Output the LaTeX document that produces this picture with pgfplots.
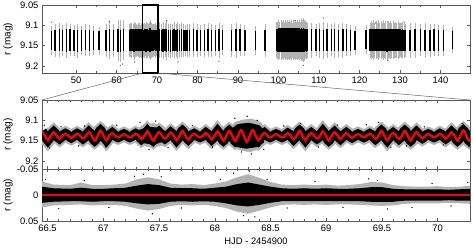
\documentclass[border=0pt]{standalone}
\usepackage{pgfplots}
\pgfplotsset{compat=1.18}
\usepackage{pgfplotstable}
\usepackage{fontspec}
\setmainfont{Liberation Sans}

% top panel: nightly bars (x, centre, core half-range, fringe half-range)
\pgfplotstableread{
x yc ec ef
44.0 9.137 0.024 0.036
44.8 9.137 0.026 0.040
45.9 9.136 0.027 0.042
46.7 9.138 0.026 0.038
47.7 9.137 0.028 0.044
48.5 9.136 0.026 0.040
49.5 9.137 0.025 0.038
50.4 9.138 0.027 0.042
51.4 9.137 0.026 0.036
52.4 9.136 0.025 0.040
53.3 9.137 0.026 0.038
54.4 9.137 0.024 0.036
55.7 9.138 0.023 0.034
57.4 9.137 0.025 0.040
58.2 9.136 0.027 0.046
59.2 9.137 0.026 0.040
60.4 9.137 0.028 0.050
61.0 9.138 0.027 0.052
61.7 9.136 0.028 0.050
63.30 9.137 0.025 0.040
63.55 9.136 0.026 0.042
63.80 9.137 0.027 0.044
64.05 9.137 0.026 0.040
64.30 9.138 0.028 0.046
64.55 9.136 0.026 0.042
64.80 9.137 0.027 0.040
65.05 9.137 0.025 0.038
65.30 9.136 0.026 0.042
65.55 9.137 0.027 0.044
65.80 9.138 0.026 0.040
66.05 9.137 0.027 0.042
66.30 9.136 0.026 0.044
66.55 9.137 0.025 0.040
66.80 9.137 0.026 0.042
67.05 9.136 0.026 0.040
67.30 9.137 0.028 0.046
67.55 9.137 0.027 0.044
67.80 9.136 0.025 0.040
68.05 9.137 0.026 0.042
68.30 9.136 0.029 0.050
68.55 9.137 0.026 0.042
68.80 9.137 0.025 0.040
69.05 9.137 0.026 0.040
69.30 9.136 0.025 0.040
69.55 9.137 0.026 0.042
69.80 9.137 0.025 0.038
70.05 9.137 0.025 0.038
70.30 9.137 0.026 0.040
70.70 9.136 0.027 0.044
71.10 9.137 0.026 0.040
71.50 9.137 0.028 0.046
72.00 9.136 0.027 0.042
72.40 9.137 0.028 0.048
72.90 9.137 0.026 0.040
73.30 9.138 0.027 0.042
73.80 9.137 0.026 0.040
74.20 9.136 0.027 0.044
74.70 9.137 0.026 0.040
75.10 9.137 0.028 0.046
75.60 9.137 0.026 0.040
76.00 9.136 0.027 0.042
76.50 9.137 0.026 0.040
76.90 9.137 0.025 0.038
77.40 9.137 0.026 0.040
78.00 9.137 0.026 0.040
79.00 9.136 0.027 0.042
79.90 9.137 0.026 0.040
80.80 9.137 0.025 0.038
81.70 9.137 0.026 0.040
82.60 9.136 0.027 0.042
83.50 9.137 0.026 0.040
84.40 9.137 0.025 0.038
85.30 9.137 0.027 0.044
86.20 9.136 0.025 0.038
88.40 9.137 0.026 0.040
89.50 9.137 0.027 0.042
90.50 9.136 0.026 0.040
91.70 9.137 0.025 0.038
94.40 9.137 0.024 0.036
96.70 9.137 0.025 0.040
99.60 9.136 0.027 0.044
99.85 9.137 0.028 0.046
100.10 9.136 0.029 0.048
100.35 9.137 0.028 0.046
100.60 9.136 0.029 0.050
100.85 9.137 0.028 0.046
101.10 9.136 0.029 0.048
101.35 9.137 0.028 0.044
101.60 9.136 0.029 0.048
101.85 9.137 0.028 0.046
102.10 9.136 0.029 0.050
102.35 9.137 0.028 0.046
102.60 9.136 0.029 0.048
102.85 9.137 0.028 0.046
103.10 9.136 0.029 0.048
103.35 9.137 0.028 0.044
103.60 9.136 0.029 0.048
103.85 9.137 0.028 0.046
104.10 9.136 0.030 0.050
104.35 9.137 0.028 0.046
104.60 9.136 0.029 0.048
104.85 9.137 0.028 0.046
105.10 9.136 0.029 0.048
105.35 9.137 0.028 0.046
105.60 9.136 0.030 0.052
105.85 9.137 0.029 0.050
106.10 9.136 0.030 0.054
106.35 9.137 0.029 0.050
106.60 9.136 0.028 0.046
106.85 9.137 0.028 0.046
107.10 9.137 0.027 0.044
108.20 9.137 0.027 0.042
109.30 9.136 0.026 0.040
110.20 9.137 0.027 0.044
111.10 9.137 0.026 0.046
112.00 9.137 0.027 0.042
113.10 9.136 0.026 0.040
113.90 9.137 0.027 0.042
114.80 9.137 0.026 0.040
115.90 9.137 0.027 0.042
116.80 9.136 0.026 0.040
117.80 9.137 0.025 0.038
118.90 9.137 0.024 0.036
121.60 9.135 0.024 0.036
122.60 9.137 0.027 0.044
122.90 9.136 0.028 0.046
123.20 9.137 0.027 0.044
123.50 9.136 0.028 0.048
123.80 9.137 0.027 0.044
124.10 9.136 0.028 0.046
124.40 9.137 0.027 0.044
124.70 9.136 0.028 0.048
125.00 9.137 0.027 0.044
125.30 9.136 0.028 0.046
125.60 9.137 0.027 0.044
125.90 9.136 0.028 0.048
126.20 9.137 0.027 0.044
126.50 9.136 0.028 0.046
126.80 9.137 0.028 0.048
127.10 9.136 0.028 0.046
127.40 9.137 0.027 0.044
127.70 9.136 0.028 0.046
128.00 9.137 0.027 0.044
128.30 9.136 0.028 0.046
128.60 9.137 0.027 0.044
128.90 9.136 0.027 0.044
129.20 9.137 0.027 0.044
129.50 9.136 0.028 0.046
129.80 9.137 0.027 0.044
130.10 9.136 0.027 0.042
130.40 9.137 0.026 0.042
130.70 9.136 0.027 0.044
131.00 9.137 0.026 0.042
131.30 9.137 0.026 0.040
132.50 9.137 0.026 0.042
133.70 9.137 0.027 0.044
135.00 9.136 0.026 0.040
136.20 9.137 0.026 0.042
137.40 9.137 0.025 0.040
138.40 9.136 0.026 0.040
139.50 9.137 0.025 0.038
140.70 9.137 0.025 0.038
143.00 9.136 0.023 0.032
}\nightly

% middle panel: fitted curve (extremes and mean crossings)
\pgfplotstableread{
x y
66.4500 9.127
66.4763 9.138
66.5025 9.149
66.5288 9.138
66.5550 9.129
66.5813 9.138
66.6075 9.145
66.6338 9.138
66.6600 9.133
66.6863 9.138
66.7125 9.143
66.7388 9.138
66.7650 9.133
66.7913 9.138
66.8175 9.145
66.8438 9.138
66.8700 9.129
66.8963 9.138
66.9225 9.150
66.9488 9.138
66.9750 9.125
67.0013 9.138
67.0275 9.149
67.0538 9.138
67.0800 9.131
67.1063 9.138
67.1325 9.142
67.1588 9.138
67.1850 9.134
67.2113 9.138
67.2375 9.142
67.2638 9.138
67.2900 9.133
67.3163 9.138
67.3425 9.146
67.3688 9.138
67.3950 9.127
67.4213 9.138
67.4475 9.150
67.4738 9.138
67.5000 9.129
67.5263 9.138
67.5525 9.145
67.5788 9.138
67.6050 9.130
67.6313 9.138
67.6575 9.149
67.6838 9.138
67.7100 9.126
67.7363 9.138
67.7625 9.147
67.7888 9.138
67.8150 9.133
67.8413 9.138
67.8675 9.142
67.8938 9.138
67.9200 9.131
67.9463 9.138
67.9725 9.147
67.9988 9.138
68.0250 9.127
68.0513 9.138
68.0775 9.150
68.1038 9.138
68.1300 9.126
68.1563 9.138
68.1825 9.151
68.2088 9.138
68.2350 9.124
68.2613 9.138
68.2875 9.153
68.3138 9.138
68.3400 9.124
68.3663 9.138
68.3925 9.149
68.4188 9.138
68.4450 9.131
68.4713 9.138
68.4975 9.142
68.5238 9.138
68.5500 9.134
68.5763 9.138
68.6025 9.142
68.6288 9.138
68.6550 9.132
68.6813 9.138
68.7075 9.147
68.7338 9.138
68.7600 9.126
68.7863 9.138
68.8125 9.149
68.8388 9.138
68.8650 9.131
68.8913 9.138
68.9175 9.145
68.9438 9.138
68.9700 9.127
68.9963 9.138
69.0225 9.150
69.0488 9.138
69.0750 9.129
69.1013 9.138
69.1275 9.146
69.1538 9.138
69.1800 9.131
69.2063 9.138
69.2325 9.143
69.2588 9.138
69.2850 9.134
69.3113 9.138
69.3375 9.142
69.3638 9.138
69.3900 9.133
69.4163 9.138
69.4425 9.146
69.4688 9.138
69.4950 9.126
69.5213 9.138
69.5475 9.149
69.5738 9.138
69.6000 9.131
69.6263 9.138
69.6525 9.146
69.6788 9.138
69.7050 9.126
69.7313 9.138
69.7575 9.150
69.7838 9.138
69.8100 9.129
69.8363 9.138
69.8625 9.144
69.8888 9.138
69.9150 9.134
69.9413 9.138
69.9675 9.142
69.9938 9.138
70.0200 9.133
70.0463 9.138
70.0725 9.145
70.0988 9.138
70.1250 9.129
70.1513 9.138
70.1775 9.150
70.2038 9.138
70.2300 9.125
70.2563 9.138
70.2825 9.150
70.3088 9.138
70.3350 9.126
}\curve

\pgfplotsset{
  panel/.style={
    scale only axis, width=428pt, anchor=north west,
    axis line style={black!65, line width=0.6pt},
    tick style={black!65, line width=0.5pt},
    tick align=inside,
    major tick length=3pt, minor tick length=1.8pt,
    tick label style={font=\fontsize{9.4}{11}\selectfont},
    label style={font=\fontsize{9.4}{11}\selectfont},
    /pgf/number format/assume math mode=true,
    scaled y ticks=false, scaled x ticks=false,
    yticklabel style={/pgf/number format/fixed, /pgf/number format/precision=2},
    xticklabel style={/pgf/number format/fixed, /pgf/number format/precision=1},
    every axis y label/.style={at={(axis description cs:-0.0794,0.5)}, rotate=90, anchor=center},
    ylabel={r (mag)},
    y dir=reverse,
  },
}

\begin{document}
\begin{tikzpicture}
\useasboundingbox (0pt,0pt) rectangle (473pt,-249pt);

% ---------- top panel ----------
\begin{axis}[panel, at={(42pt,-5pt)}, height=68pt, clip=false,
  xmin=41.6, xmax=147.3, ymin=9.05, ymax=9.217,
  xtick={50,60,70,80,90,100,110,120,130,140}, minor x tick num=1,
  ytick={9.05,9.1,9.15,9.2}]
\addplot[black!30, line width=0.8pt, forget plot, quiver={u=0, v={2*\thisrow{ef}}}]
  table[x=x, y expr=\thisrow{yc}-\thisrow{ef}] {\nightly};
\addplot[black, line width=1.3pt, forget plot, quiver={u=0, v={2*\thisrow{ec}}}]
  table[x=x, y expr=\thisrow{yc}-\thisrow{ec}] {\nightly};
\addplot[only marks, mark=*, mark size=0.35pt, black!70] coordinates {
 (44.0,9.092) (58.2,9.090) (60.9,9.198) (61.5,9.195) (64.5,9.190)
 (68.3,9.094) (72.4,9.088) (75.2,9.190) (85.3,9.188) (104.1,9.088)
 (106.1,9.198) (111.1,9.082) (124.0,9.094) (127.0,9.186) (131.0,9.092)};
\draw[black, line width=1.4pt] (axis cs:66.45,9.05) rectangle (axis cs:70.29,9.217);
\coordinate (rbl) at (axis cs:66.45,9.217);
\coordinate (rbr) at (axis cs:70.29,9.217);
\end{axis}

% ---------- middle panel ----------
\begin{axis}[panel, at={(42pt,-100pt)}, height=69pt,
  xmin=66.45, xmax=70.29, ymin=9.05, ymax=9.22,
  xtick={66.5,67,67.5,68,68.5,69,69.5,70}, minor x tick num=4, xticklabels={},
  ytick={9.05,9.1,9.15,9.2}]
\addplot[fill=black!30, draw=none] coordinates {
 (68.12,9.122) (68.18,9.104) (68.26,9.098) (68.33,9.096) (68.41,9.104) (68.46,9.120)
 (68.46,9.158) (68.40,9.172) (68.32,9.178) (68.24,9.175) (68.17,9.168) (68.12,9.156)};
\addplot[fill=black!30, draw=none] coordinates {
 (67.30,9.122) (67.36,9.110) (67.45,9.107) (67.54,9.113) (67.57,9.124)
 (67.57,9.156) (67.50,9.165) (67.40,9.166) (67.33,9.160) (67.30,9.152)};
\addplot[black!30, line width=14pt, smooth] table[x=x, y=y] {\curve};
\addplot[fill=black, draw=none] coordinates {
 (68.14,9.124) (68.20,9.110) (68.30,9.106) (68.40,9.112) (68.44,9.124)
 (68.44,9.155) (68.38,9.166) (68.28,9.170) (68.18,9.165) (68.14,9.154)};
\addplot[fill=black, draw=none] coordinates {
 (67.32,9.124) (67.40,9.116) (67.50,9.118) (67.55,9.126)
 (67.55,9.152) (67.45,9.160) (67.35,9.156)};
\addplot[black, line width=9.5pt, smooth] table[x=x, y=y] {\curve};
\addplot[only marks, mark=*, mark size=0.4pt, black] coordinates {
 (66.47,9.112) (66.52,9.168) (66.62,9.116) (66.78,9.163) (66.83,9.114)
 (67.02,9.165) (67.12,9.112) (67.33,9.105) (67.41,9.172) (67.47,9.102)
 (67.58,9.167) (67.80,9.113) (67.98,9.166) (68.18,9.095) (68.24,9.178)
 (68.29,9.090) (68.33,9.183) (68.38,9.100) (68.44,9.172) (68.62,9.114)
 (68.77,9.108) (68.93,9.166) (69.10,9.112) (69.36,9.111) (69.47,9.105)
 (69.58,9.166) (69.72,9.163) (69.88,9.116) (70.05,9.161) (70.22,9.108) (70.28,9.165)};
\addplot[red, line width=2.3pt, smooth] table[x=x, y=y] {\curve};
\coordinate (mtl) at (axis cs:66.45,9.05);
\coordinate (mtr) at (axis cs:70.29,9.05);
\end{axis}

% ---------- bottom panel ----------
\begin{axis}[panel, at={(42pt,-169pt)}, height=52pt,
  xmin=66.45, xmax=70.29, ymin=-0.05, ymax=0.05,
  xtick={66.5,67,67.5,68,68.5,69,69.5,70}, minor x tick num=4,
  ytick={-0.05,0,0.05},
  xlabel={HJD - 2454900}]
\addplot[fill=black!30, draw=none] coordinates {
 (66.45,-0.026) (66.55,-0.020) (66.70,-0.019) (66.80,-0.024) (66.90,-0.019) (67.00,-0.019)
 (67.10,-0.020) (67.20,-0.022) (67.30,-0.030) (67.40,-0.034) (67.50,-0.030) (67.60,-0.022)
 (67.70,-0.020) (67.80,-0.021) (67.90,-0.019) (68.00,-0.022) (68.10,-0.026) (68.20,-0.034)
 (68.30,-0.040) (68.40,-0.033) (68.50,-0.025) (68.60,-0.020) (68.70,-0.019) (68.80,-0.020)
 (68.90,-0.019) (69.00,-0.020) (69.10,-0.018) (69.20,-0.019) (69.30,-0.021) (69.40,-0.025)
 (69.50,-0.024) (69.60,-0.019) (69.70,-0.017) (69.80,-0.016) (69.90,-0.016) (70.00,-0.017)
 (70.10,-0.015) (70.20,-0.016) (70.30,-0.018)
 (70.30,0.017) (70.20,0.016) (70.10,0.015) (70.00,0.016) (69.90,0.016) (69.80,0.016)
 (69.70,0.017) (69.60,0.020) (69.50,0.021) (69.40,0.020) (69.30,0.019) (69.20,0.018)
 (69.10,0.018) (69.00,0.019) (68.90,0.018) (68.80,0.019) (68.70,0.018) (68.60,0.019)
 (68.50,0.024) (68.40,0.030) (68.30,0.036) (68.20,0.032) (68.10,0.025) (68.00,0.021)
 (67.90,0.019) (67.80,0.020) (67.70,0.019) (67.60,0.021) (67.50,0.027) (67.40,0.030)
 (67.30,0.026) (67.20,0.021) (67.10,0.019) (67.00,0.019) (66.90,0.020) (66.80,0.018)
 (66.70,0.019) (66.55,0.020) (66.45,0.024)};
\addplot[fill=black, draw=none] coordinates {
 (66.45,-0.016) (66.55,-0.013) (66.70,-0.012) (66.80,-0.014) (66.90,-0.012) (67.00,-0.012)
 (67.10,-0.013) (67.20,-0.014) (67.30,-0.018) (67.40,-0.021) (67.50,-0.019) (67.60,-0.014)
 (67.70,-0.013) (67.80,-0.013) (67.90,-0.012) (68.00,-0.014) (68.10,-0.016) (68.20,-0.021)
 (68.30,-0.024) (68.40,-0.020) (68.50,-0.016) (68.60,-0.013) (68.70,-0.012) (68.80,-0.013)
 (68.90,-0.012) (69.00,-0.013) (69.10,-0.012) (69.20,-0.012) (69.30,-0.013) (69.40,-0.015)
 (69.50,-0.015) (69.60,-0.012) (69.70,-0.011) (69.80,-0.011) (69.90,-0.011) (70.00,-0.011)
 (70.10,-0.010) (70.20,-0.011) (70.30,-0.012)
 (70.30,0.011) (70.20,0.011) (70.10,0.010) (70.00,0.011) (69.90,0.011) (69.80,0.011)
 (69.70,0.011) (69.60,0.013) (69.50,0.013) (69.40,0.013) (69.30,0.012) (69.20,0.012)
 (69.10,0.012) (69.00,0.012) (68.90,0.012) (68.80,0.012) (68.70,0.012) (68.60,0.012)
 (68.50,0.015) (68.40,0.019) (68.30,0.022) (68.20,0.020) (68.10,0.016) (68.00,0.013)
 (67.90,0.012) (67.80,0.013) (67.70,0.012) (67.60,0.013) (67.50,0.017) (67.40,0.018)
 (67.30,0.016) (67.20,0.013) (67.10,0.012) (67.00,0.012) (66.90,0.013) (66.80,0.012)
 (66.70,0.012) (66.55,0.013) (66.45,0.015)};
\addplot[only marks, mark=*, mark size=0.4pt, black] coordinates {
 (66.48,-0.030) (66.60,0.026) (66.83,-0.028) (67.05,0.024) (67.28,-0.036)
 (67.36,-0.040) (67.44,0.036) (67.52,-0.035) (67.70,0.025) (68.05,-0.030)
 (68.17,-0.042) (68.26,0.040) (68.31,-0.046) (68.36,0.042) (68.47,-0.030)
 (68.65,0.025) (68.90,-0.026) (69.15,0.024) (69.38,-0.031) (69.46,-0.028)
 (69.55,0.027) (69.77,0.024) (69.95,-0.022) (70.12,0.021) (70.27,-0.024)};
\addplot[red, line width=2pt] coordinates {(66.45,0) (70.29,0)};
\end{axis}

\draw[black!60, line width=0.5pt] (rbl) -- (mtl);
\draw[black!60, line width=0.5pt] (rbr) -- (mtr);
\end{tikzpicture}
\end{document}
